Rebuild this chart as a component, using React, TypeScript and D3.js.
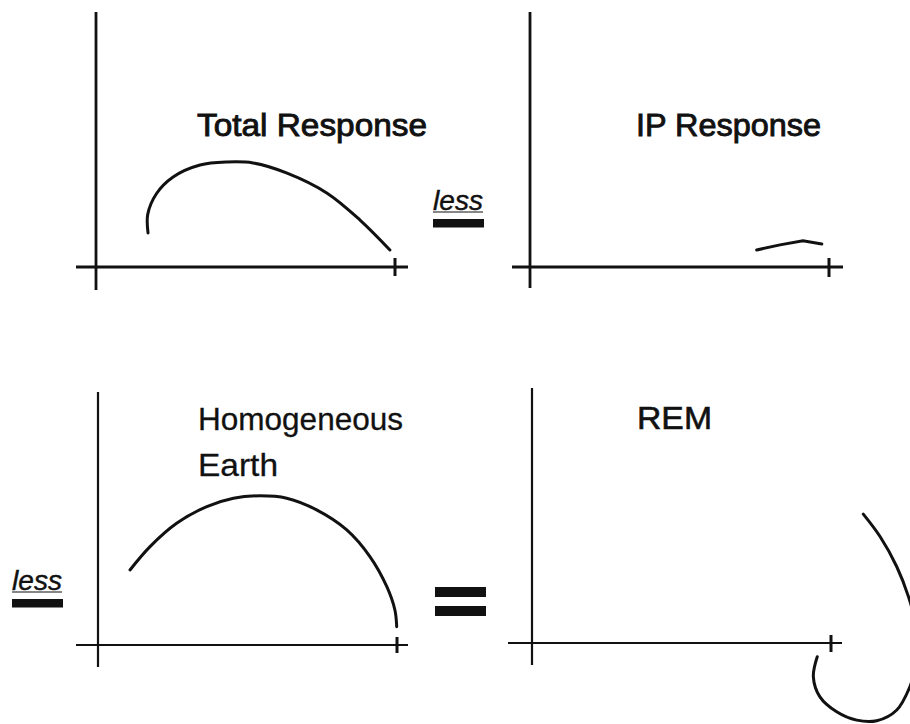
import React from 'react';
import * as d3 from 'd3';

// curve points in panel units: x 0 = origin, x 100 = the tick on the x-axis;
// y uses the same unit size, measured up from the x-axis
const totalResponse: [number, number][] = [
  [17.4, 11.4], [17.3, 17.6], [20.2, 24.5], [25.8, 30.1], [34.8, 34.1], [43.8, 35.1],
  [52.5, 34.8], [63.9, 31.4], [77.3, 24.7], [88.3, 15.7], [98.3, 5.7],
];
const ipResponse: [number, number][] = [
  [75.8, 5.7], [83.6, 7.4], [91.3, 8.8], [97.6, 7.7],
];
const homogeneousEarth: [number, number][] = [
  [10.7, 25.1], [17.4, 32.9], [26.3, 40.7], [36.4, 46.3], [45.3, 49.1], [54.2, 49.9],
  [63.1, 49.1], [73.1, 45.2], [83.2, 38.5], [91.0, 29.5], [96.6, 19.5], [99.3, 11.7], [99.9, 6.1],
];
const remResponse: [number, number][] = [
  [110.8, 43.1], [116.4, 35.6], [122.0, 25.5], [125.9, 15.5], [128.4, 6.0], [129.1, -2.3],
  [127.8, -9.7], [126.4, -14.6], [122.0, -22.4], [115.3, -26.0], [108.6, -25.8],
  [101.9, -23.0], [96.3, -18.0], [94.1, -11.3], [95.4, -4.6],
];

const titles = [['Total Response'], ['IP Response'], ['Homogeneous', 'Earth'], ['REM']];
const operatorWord = 'less';

const W = 910, H = 724;
const ink = '#111';

// layout of the four little plots (pixels)
const panels = [
  { ox: 96, oy: 267, tickX: 395, top: 12, bottom: 290, left: 76, right: 408, tickTop: 258, tickBot: 276,
    data: totalResponse, curve: d3.curveCatmullRom, title: titles[0], tx: 197, ty: 136, tw: [230], axisW: 2.8, bold: 0.9 },
  { ox: 530, oy: 267, tickX: 829, top: 12, bottom: 288, left: 512, right: 843, tickTop: 258, tickBot: 277,
    data: ipResponse, curve: d3.curveLinear, title: titles[1], tx: 636, ty: 136, tw: [185], axisW: 2.8, bold: 0.9 },
  { ox: 98, oy: 645, tickX: 397, top: 392, bottom: 667, left: 76, right: 408, tickTop: 637, tickBot: 653,
    data: homogeneousEarth, curve: d3.curveCatmullRom, title: titles[2], tx: 198, ty: 430, tw: [205, 80], axisW: 2.2, bold: 0.3 },
  { ox: 532, oy: 643, tickX: 831, top: 388, bottom: 665, left: 508, right: 842, tickTop: 635, tickBot: 652,
    data: remResponse, curve: d3.curveCatmullRom, title: titles[3], tx: 637, ty: 429, tw: [75], axisW: 2.2, bold: 0.6 },
];

function Panel({ p }: { p: typeof panels[number] }) {
  const span = p.tickX - p.ox;
  const x = d3.scaleLinear().domain([0, 100]).range([p.ox, p.tickX]);
  const y = d3.scaleLinear().domain([0, 100]).range([p.oy, p.oy - span]);
  const line = d3.line<[number, number]>()
    .x(d => x(d[0]))
    .y(d => y(d[1]))
    .curve(p.curve);

  return (
    <g>
      <line x1={p.ox} x2={p.ox} y1={p.top} y2={p.bottom} stroke={ink} strokeWidth={p.axisW} />
      <line x1={p.left} x2={p.right} y1={p.oy} y2={p.oy} stroke={ink} strokeWidth={p.axisW} />
      <line x1={x(100)} x2={x(100)} y1={p.tickTop} y2={p.tickBot} stroke={ink} strokeWidth={3} />
      <path d={line(p.data) || ''} fill="none" stroke={ink} strokeWidth={3} strokeLinecap="round" />
      {p.title.map((t, i) => (
        <text key={t} x={p.tx} y={p.ty + i * 46} fontSize={32} fill={ink}
          stroke={ink} strokeWidth={p.bold}
          textLength={p.tw[i]} lengthAdjust="spacingAndGlyphs">{t}</text>
      ))}
    </g>
  );
}

function Less({ x, y }: { x: number; y: number }) {
  return (
    <g>
      <text x={x} y={y} fontSize={27} fontStyle="italic" fill={ink} stroke={ink} strokeWidth={0.4}
        textLength={50} lengthAdjust="spacingAndGlyphs">{operatorWord}</text>
      <line x1={x} x2={x + 50} y1={y + 2} y2={y + 2} stroke={ink} strokeWidth={1.2} />
      <rect x={x} y={y + 9} width={51} height={8.5} fill={ink} />
    </g>
  );
}

export default function App() {
  return (
    <svg width={W} height={H} style={{ position: 'absolute', left: 0, top: 0, background: '#fff' }}
      fontFamily="'Liberation Sans', Arial, sans-serif">
      {panels.map((p, i) => <Panel key={i} p={p} />)}
      <Less x={433} y={210} />
      <Less x={12} y={590} />
      {/* equals sign */}
      <rect x={435} y={587} width={51} height={10} fill={ink} />
      <rect x={435} y={606} width={51} height={10} fill={ink} />
    </svg>
  );
}
